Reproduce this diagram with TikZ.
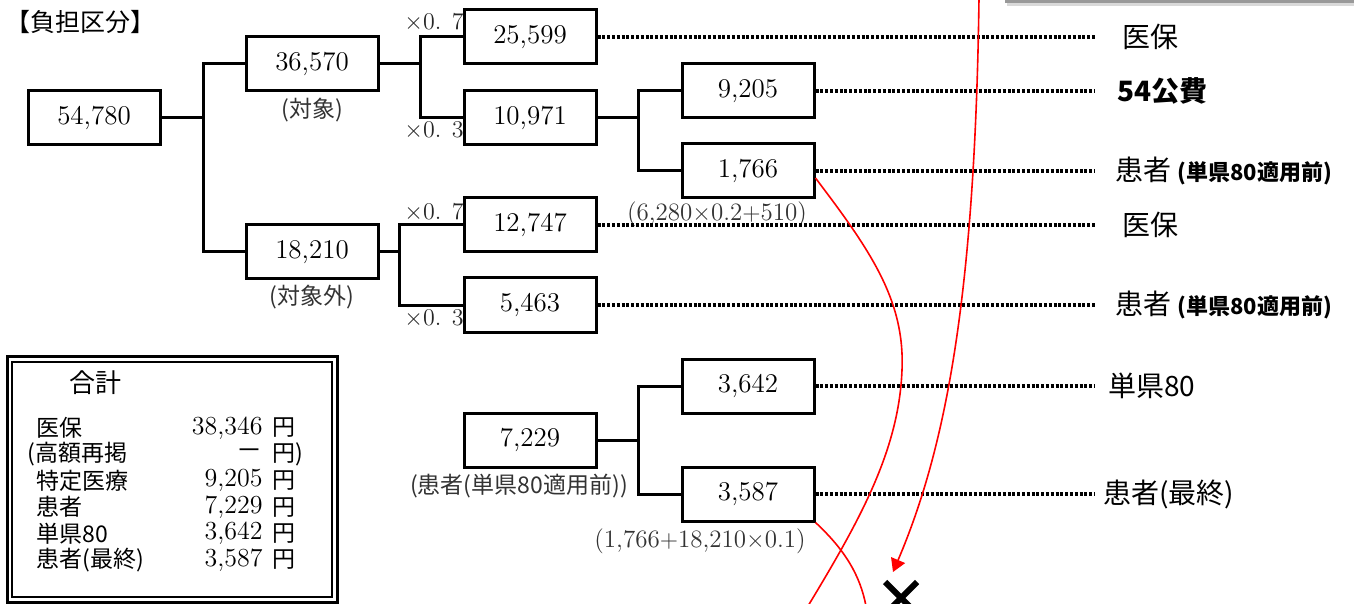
\documentclass[tikz,border=0pt]{standalone}
\usepackage{fontspec}
\newfontfamily\jp{Noto Sans CJK JP}
\usetikzlibrary{
    positioning, % relative placement (below=of ...)
    arrows.meta, % arrow tips
    shapes.misc  % cross out
}

\begin{document}
\begin{tikzpicture}[x=0.5pt, y=-0.5pt, node distance=2pt] % 1 unit = 1 px of the reference

    % --- Styles ---
    \tikzset{
        % boxes with the amounts
        num_box/.style={
            draw,
            rectangle,
            line width=1.5pt,
            minimum width=66pt,
            minimum height=27pt,
            inner sep=0pt,
            font=\fontsize{13.5}{16}\selectfont
        },
        % small texts under the boxes
        note_text/.style={
            inner sep=0pt,
            text=black!80,
            font=\fontsize{12.5}{14}\selectfont
        },
        mult_text/.style={
            inner sep=0pt,
            text=black!85,
            font=\fontsize{12}{14}\selectfont
        },
        % labels on the right side
        side_label/.style={
            anchor=west,
            inner sep=0pt,
            font=\jp\fontsize{14}{16}\selectfont
        },
        sum_text/.style={
            inner sep=0pt,
            font=\jp\fontsize{11.5}{13}\selectfont
        },
        sum_num/.style={
            anchor=east,
            inner sep=0pt,
            font=\fontsize{13}{15}\selectfont
        },
        link_line/.style={
            line width=1.5pt
        },
        dot_line/.style={
            line width=1.6pt,
            dash pattern=on 1.5pt off 0.9pt
        },
        red_curve/.style={
            draw=red,
            line width=0.8pt
        }
    }

    \useasboundingbox (0,0) rectangle (1354,604);
    \clip (0,0) rectangle (1354,604);

    % --- Title ---
    \node[font=\jp\fontsize{12.5}{14}\selectfont, inner sep=0pt] (title) at (80,22) {【負担区分】};

    % --- Boxes ---
    \node[num_box] (b54780) at (94,118) {54,780};
    \node[num_box] (b36570) at (312,64) {36,570};
    \node[num_box] (b18210) at (312,252) {18,210};
    \node[num_box] (b25599) at (530,37) {25,599};
    \node[num_box] (b10971) at (530,118) {10,971};
    \node[num_box] (b12747) at (530,225) {12,747};
    \node[num_box] (b5463) at (530,305) {5,463};
    \node[num_box] (b9205) at (748,91) {9,205};
    \node[num_box] (b1766) at (748,171) {1,766};
    \node[num_box] (b7229) at (530,440) {7,229};
    \node[num_box] (b3642) at (748,386) {3,642};
    \node[num_box] (b3587) at (748,494) {3,587};

    % --- Notes under the boxes ---
    \node[note_text, font=\jp\fontsize{11.5}{13}\selectfont, below=2.5pt of b36570] (n_taisho) {(対象)};
    \node[note_text, font=\jp\fontsize{11.5}{13}\selectfont, below=2pt of b18210] (n_taishogai) {(対象外)};
    \node[note_text, below=1pt of b1766, xshift=-15.5pt] (n_1766) {(6,280$\times$0.2$+$510)};
    \node[note_text, font=\jp\fontsize{11.5}{13}\selectfont, below=2.5pt of b7229, xshift=-5.5pt] (n_7229) {(患者(単県80適用前))};
    \node[note_text, below=3pt of b3587, xshift=-24pt] (n_3587) {(1,766$+$18,210$\times$0.1)};

    % --- Factors ---
    \node[mult_text] (m_a7) at (434,22) {$\times$0. 7};
    \node[mult_text] (m_a3) at (434,131) {$\times$0. 3};
    \node[mult_text] (m_b7) at (434,212) {$\times$0. 7};
    \node[mult_text] (m_b3) at (434,319) {$\times$0. 3};

    % --- Branch lines ---
    \coordinate (s1) at (203,118);
    \coordinate (s2) at (420,64);
    \coordinate (s3) at (399,252);
    \coordinate (s4) at (638,118);
    \coordinate (s5) at (638,440);
    \draw[link_line] (b54780) -- (s1);
    \draw[link_line] (b36570.west) -| (s1) |- (b18210.west);
    \draw[link_line] (b36570) -- (s2);
    \draw[link_line] (b25599.west) -| (s2) |- (b10971.west);
    \draw[link_line] (b18210) -- (s3);
    \draw[link_line] (b12747.west) -| (s3) |- (b5463.west);
    \draw[link_line] (b10971) -- (s4);
    \draw[link_line] (b9205.west) -| (s4) |- (b1766.west);
    \draw[link_line] (b7229) -- (s5);
    \draw[link_line] (b3642.west) -| (s5) |- (b3587.west);

    % --- Dotted lines to the labels ---
    \coordinate (dots_end) at (1095,0);
    \foreach \b in {b25599,b9205,b1766,b12747,b5463,b3642,b3587}
        \draw[dot_line] (\b.east) -- (\b.east -| dots_end);

    % --- Labels on the right ---
    \node[side_label] (l_iho1) at (1122,37) {医保};
    \node[side_label, font=\jp\bfseries\fontsize{14}{16}\selectfont] (l_kohi) at (1117,91) {54公費};
    \node[side_label] (l_kanja1) at (1115,171) {患者 {\bfseries\fontsize{11}{12}\selectfont (単県80適用前)}};
    \node[side_label] (l_iho2) at (1122,225) {医保};
    \node[side_label] (l_kanja2) at (1115,305) {患者 {\bfseries\fontsize{11}{12}\selectfont (単県80適用前)}};
    \node[side_label] (l_tanken) at (1108,386) {単県80};
    \node[side_label] (l_saishu) at (1103,494) {患者(最終)};

    % --- Totals ---
    \draw[line width=1.5pt] (7,356) rectangle (337,602);
    \draw[line width=1pt] (12,362) rectangle (332,597);
    \node[sum_text, font=\jp\fontsize{13}{15}\selectfont] (sum_title) at (95,383) {合計};
    \foreach \lab/\val/\yen/\lx [count=\i] in {
        医保/{38,346}/円/36,
        {(高額再掲}/{\jp －}/{円)}/27,
        特定医療/{9,205}/円/36,
        患者/{7,229}/円/36,
        単県80/{3,642}/円/36,
        患者(最終)/{3,587}/円/36}
    {
        \node[sum_text, anchor=west] at (\lx,{428+26.4*(\i-1)}) {\lab};
        \node[sum_num] at (263,{428+26.4*(\i-1)}) {\val};
        \node[sum_text, anchor=west] at (272,{428+26.4*(\i-1)}) {\yen};
    }

    % --- Red marks ---
    \coordinate (a_end) at (808,606);
    \coordinate (b_end) at (866,606);
    \coordinate (c_start) at (979,-2);
    \node[draw, cross out, line width=3pt, minimum size=13pt, inner sep=0pt] (x_mark) at (901,598) {};
    \draw[red_curve] ([yshift=-3.5pt]b1766.east) .. controls (870,250) and (905,300) .. (902,370)
        .. controls (899,450) and (860,520) .. (a_end);
    \draw[red_curve] (b3587.south east) .. controls (845,550) and (860,575) .. (b_end);
    \draw[red_curve, -{Triangle[length=6.5pt, width=7.5pt]}] (c_start) .. controls (975,300) and (945,450)
        .. ([xshift=-4pt, yshift=5pt]x_mark.north);

    % --- Shadow at the top right ---
    \fill[black!40] (1005,0) rectangle (1354,3);
    \fill[black!15] (1007,3) rectangle (1354,6);

\end{tikzpicture}
\end{document}
